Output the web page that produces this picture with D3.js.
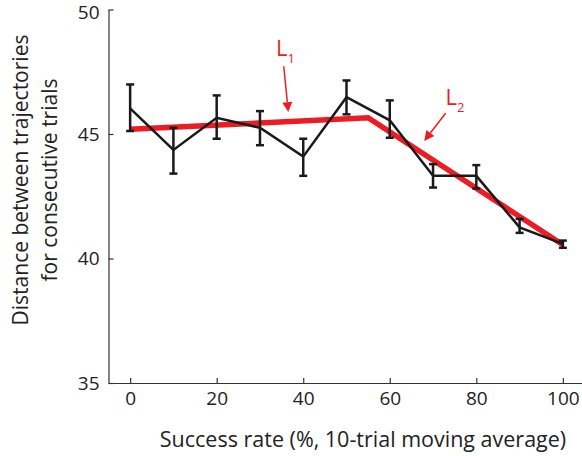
<!DOCTYPE html>
<html>
<head>
<meta charset="utf-8">
<script src="https://cdn.jsdelivr.net/npm/d3@7"></script>
<style>
  body { margin: 0; background: #fff; }
  svg { display: block; font-family: "Open Sans", sans-serif; }
</style>
</head>
<body>
<svg width="582" height="456"></svg>
<script>
// success rate bins
let rates = [0, 10, 20, 30, 40, 50, 60, 70, 80, 90, 100];
// mean distance and error bar ends
let means = [46.03, 44.36, 45.65, 45.25, 44.09, 46.48, 45.55, 43.32, 43.32, 41.25, 40.59];
let upper = [46.99, 45.25, 46.55, 45.92, 44.81, 47.15, 46.35, 43.79, 43.75, 41.59, 40.72];
let lower = [45.12, 43.41, 44.81, 44.55, 43.32, 45.79, 44.85, 42.85, 42.81, 41.03, 40.43];
// piecewise linear fit (L1, L2)
let fitX = [0, 55, 100];
let fitY = [45.19, 45.65, 40.55];

let xTicks = [0, 20, 40, 60, 80, 100];
let yTicks = [35, 40, 45, 50];

let red = '#ed1c24';
let ink = '#1a1a1a';

let svg = d3.select('svg');

let x = d3.scaleLinear().domain([-5, 105]).range([108.5, 584.5]);
let y = d3.scaleLinear().domain([35, 50]).range([383, 9.5]);

// axes
let xAxis = svg.append('g')
    .attr('transform', `translate(0 ${y(35)})`)
    .call(d3.axisBottom(x).tickValues(xTicks).tickSizeInner(-5).tickSizeOuter(0).tickPadding(9));

let yAxis = svg.append('g')
    .attr('transform', `translate(${x(-5)} 0)`)
    .call(d3.axisLeft(y).tickValues(yTicks).tickSizeInner(-5).tickSizeOuter(0).tickPadding(9));

[xAxis, yAxis].forEach(a => {
    a.selectAll('path, line').attr('stroke', '#333').attr('stroke-width', 1.2);
    a.selectAll('text').attr('fill', '#222').style('font-size', '19px').style('font-family', '"Open Sans", sans-serif');
});
// top label sits at the edge; nudge it in a little
yAxis.selectAll('.tick').filter(d => d === 50).select('text').attr('y', 3);

// fit line
svg.append('path')
    .datum(fitX.map((v, i) => [v, fitY[i]]))
    .attr('fill', 'none')
    .attr('stroke', red)
    .attr('stroke-width', 5.5)
    .attr('stroke-linejoin', 'miter')
    .attr('d', d3.line().x(d => x(d[0])).y(d => y(d[1])));

// data line
svg.append('path')
    .datum(rates.map((v, i) => [v, means[i]]))
    .attr('fill', 'none')
    .attr('stroke', ink)
    .attr('stroke-width', 2.5)
    .attr('d', d3.line().x(d => x(d[0])).y(d => y(d[1])));

// error bars
let bars = svg.append('g')
    .attr('stroke', ink)
    .attr('stroke-width', 2.5)
    .selectAll('g')
    .data(rates)
    .enter()
    .append('g');

bars.append('line')
    .attr('x1', d => x(d)).attr('x2', d => x(d))
    .attr('y1', (d, i) => y(upper[i])).attr('y2', (d, i) => y(lower[i]));
bars.append('line')
    .attr('x1', d => x(d) - 4).attr('x2', d => x(d) + 4)
    .attr('y1', (d, i) => y(upper[i])).attr('y2', (d, i) => y(upper[i]));
bars.append('line')
    .attr('x1', d => x(d) - 4).attr('x2', d => x(d) + 4)
    .attr('y1', (d, i) => y(lower[i])).attr('y2', (d, i) => y(lower[i]));

// annotations
function arrow(x0, y0, x1, y1) {
    let px0 = x(x0), py0 = y(y0), px1 = x(x1), py1 = y(y1);
    let a = Math.atan2(py1 - py0, px1 - px0);
    let len = 10, half = 5;
    let bx = px1 - len * Math.cos(a), by = py1 - len * Math.sin(a);
    svg.append('line')
        .attr('x1', px0).attr('y1', py0).attr('x2', bx).attr('y2', by)
        .attr('stroke', red).attr('stroke-width', 1.5);
    svg.append('path')
        .attr('fill', red)
        .attr('d', `M${px1},${py1}L${bx - half * Math.sin(a)},${by + half * Math.cos(a)}L${bx + half * Math.sin(a)},${by - half * Math.cos(a)}Z`);
}

function label(xv, yv, sub) {
    let t = svg.append('text')
        .attr('x', x(xv)).attr('y', y(yv))
        .attr('fill', red)
        .style('font-size', '22px')
        .text('L');
    t.append('tspan')
        .attr('dy', 7)
        .style('font-size', '13px')
        .text(sub);
}

label(33.7, 48.12, '1');
arrow(35.5, 47.72, 36.55, 45.88);
label(72.9, 46.16, '2');
arrow(72.9, 45.83, 67.96, 44.72);

// axis titles
svg.append('text')
    .attr('x', 363).attr('y', 447)
    .attr('text-anchor', 'middle')
    .attr('fill', '#222')
    .style('font-size', '21.5px')
    .text('Success rate (%, 10-trial moving average)');

let yTitle = svg.append('text')
    .attr('transform', 'translate(0 180) rotate(-90)')
    .attr('text-anchor', 'middle')
    .attr('fill', '#222')
    .style('font-size', '21px');
yTitle.append('tspan').attr('x', 0).attr('y', 28).text('Distance between trajectories');
yTitle.append('tspan').attr('x', 0).attr('y', 57).text('for consecutive trials');
</script>
</body>
</html>
